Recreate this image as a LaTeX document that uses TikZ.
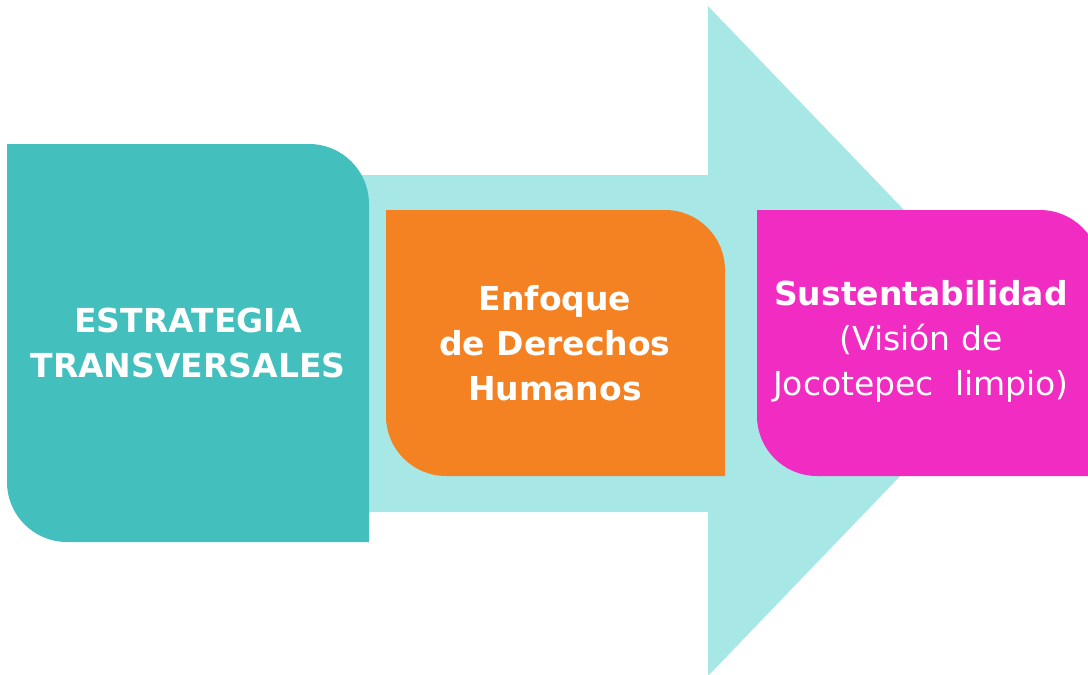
\documentclass[tikz,border=0pt]{standalone}
\usepackage{fontspec}
\setmainfont{DejaVu Sans}
\usepackage[HTML]{xcolor}
\usepackage{tikz}
\usetikzlibrary{positioning}

\definecolor{arrowcyan}{HTML}{A7E8E7}
\definecolor{boxteal}{HTML}{43C0BE}
\definecolor{boxorange}{HTML}{F48122}
\definecolor{boxpink}{HTML}{F02CC2}

% box with rounded top-right and bottom-left corners
\newcommand{\leafbox}[5]{%
  \fill[#1] (#2,#3) -- ({#4-60},#3) arc[start angle=-90,end angle=0,radius=60]
    -- (#4,#5) -- ({#2+60},#5) arc[start angle=90,end angle=180,radius=60] -- cycle;}

\begin{document}
\begin{tikzpicture}[x=1pt,y=-1pt,
  boxtext/.style={text=white, align=center, font=\fontsize{33}{45}\selectfont}]
\useasboundingbox (0,0) rectangle (1088,675);
\clip (0,0) rectangle (1088,675);

% Big arrow
\fill[arrowcyan]
  (360,175) -- (708,175) -- (708,6) -- (1030,341)
  -- (708,676) -- (708,512) -- (360,512) -- cycle;

% Boxes
\leafbox{boxteal}{7}{144}{369}{542}
\leafbox{boxorange}{386}{210}{725}{476}
\leafbox{boxpink}{757}{210}{1100}{476}

% Labels
\node[boxtext] (estrategia) at (188,343) {\bfseries ESTRATEGIA\\\bfseries TRANSVERSALES};
\node[boxtext] (enfoque) at (555,343) {\bfseries Enfoque\\\bfseries de Derechos\\\bfseries Humanos};
\node[boxtext] (sustent) at (921,341) {\bfseries Sustentabilidad\\(Visión de\\Jocotepec\ \ limpio)};
\end{tikzpicture}
\end{document}
